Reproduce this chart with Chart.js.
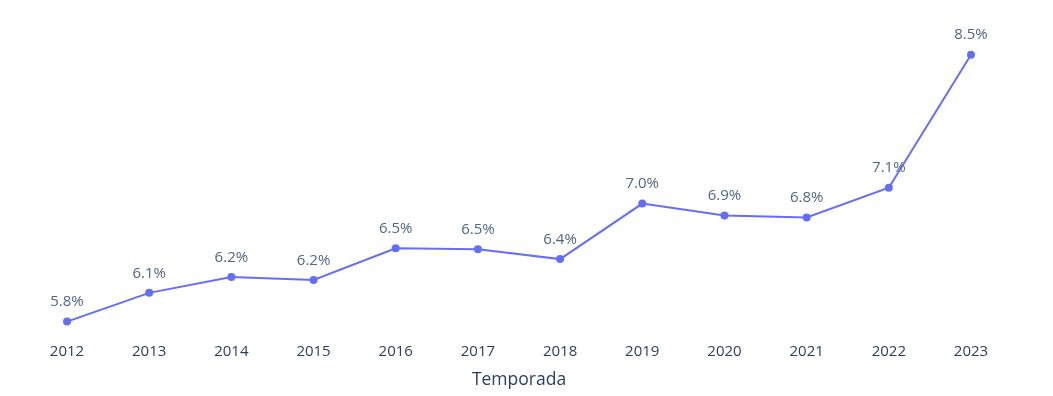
<!DOCTYPE html>
<html>
<head>
<meta charset="utf-8">
<script src="https://cdn.jsdelivr.net/npm/chart.js@4"></script>
<style>
    html, body { margin: 0; padding: 0; background: #fff; }
    #wrap { width: 1053px; height: 396px; }
</style>
</head>
<body>
<div id="wrap"><canvas id="chart" width="1053" height="396"></canvas></div>
<script>
// temporadas y porcentajes
const seasons = ['2012', '2013', '2014', '2015', '2016', '2017', '2018', '2019', '2020', '2021', '2022', '2023'];
const pctValues = [5.79, 6.08, 6.24, 6.21, 6.53, 6.52, 6.42, 6.98, 6.86, 6.84, 7.14, 8.48];

const LINE_COLOR = '#636efa';
const FONT = '"Open Sans", Verdana, Arial, sans-serif';

// etiquetas de texto sobre cada punto (como textposition "top center")
const pointLabels = {
    id: 'pointLabels',
    afterDatasetsDraw(chart) {
        const ctx = chart.ctx;
        const meta = chart.getDatasetMeta(0);
        ctx.save();
        ctx.font = '15px ' + FONT;
        ctx.fillStyle = '#506784';
        ctx.textAlign = 'center';
        ctx.textBaseline = 'bottom';
        meta.data.forEach((pt, i) => {
            ctx.fillText(pctValues[i].toFixed(1) + '%', pt.x, pt.y - 12);
        });
        ctx.restore();
    }
};

new Chart(document.getElementById('chart'), {
    type: 'line',
    data: {
        labels: seasons,
        datasets: [{
            data: pctValues,
            borderColor: LINE_COLOR,
            backgroundColor: LINE_COLOR,
            borderWidth: 2,
            pointRadius: 3,
            pointHoverRadius: 3,
            tension: 0
        }]
    },
    options: {
        responsive: false,
        animation: false,
        layout: { padding: { left: 67, right: 82, top: 20, bottom: 5 } },
        plugins: {
            legend: { display: false },
            tooltip: { enabled: false }
        },
        scales: {
            x: {
                offset: false,
                grid: { display: false, drawTicks: false },
                border: { display: false },
                ticks: {
                    color: '#2a3f5f',
                    font: { family: FONT, size: 15 },
                    padding: 6,
                    maxRotation: 0,
                    autoSkip: false
                },
                title: {
                    display: true,
                    text: 'Temporada',
                    color: '#2a3f5f',
                    font: { family: FONT, size: 17.5 },
                    padding: { top: 3, bottom: 0 }
                }
            },
            y: {
                display: false,
                min: 5.635,
                max: 8.83
            }
        }
    },
    plugins: [pointLabels]
});
</script>
</body>
</html>
